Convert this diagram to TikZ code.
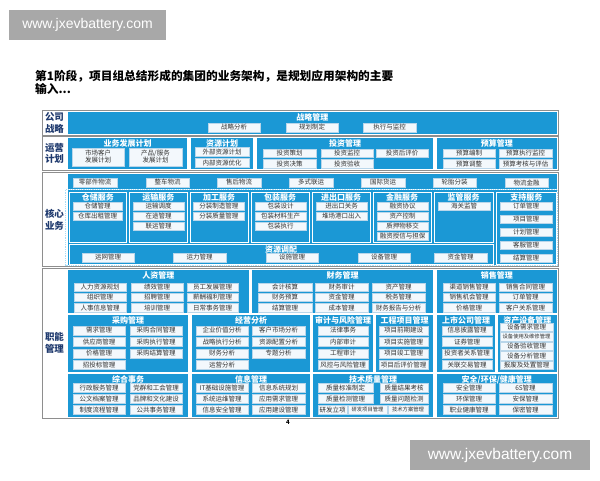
\documentclass[tikz,border=0pt]{standalone}
\usepackage{fontspec}
\setmainfont{Noto Sans CJK SC}
\newfontfamily\wmfont{Liberation Sans}
\definecolor{arcblue}{HTML}{1B98D5}
\definecolor{boxfill}{HTML}{F3F8FC}
\definecolor{boxline}{HTML}{B9D6EA}
\definecolor{boxtext}{HTML}{333333}
\definecolor{rowlabel}{HTML}{1F3A6E}
\definecolor{rowline}{HTML}{8E8E8E}
\definecolor{wmgray}{HTML}{A8A8A8}
\definecolor{dotblue}{HTML}{A9DCF5}
\tikzset{
 itembox/.style={draw=boxline, line width=0.4pt, fill=boxfill, inner sep=0pt, text=boxtext, align=center, font=\fontsize{6.5}{7}\selectfont},
 smallitem/.style={itembox, font=\fontsize{5.3}{6}\selectfont},
 blkbox/.style={fill=arcblue, inner sep=0pt, draw=none},
 svcbox/.style={fill=arcblue, inner sep=0pt, draw=white, line width=0.6pt},
 blktitle/.style={text=white, font=\bfseries\fontsize{8}{9}\selectfont, inner sep=0pt},
 rowframe/.style={draw=rowline, line width=0.7pt, fill=white, inner sep=0pt},
 dotframe/.style={draw=dotblue, densely dotted, line width=0.8pt, inner sep=0pt},
 rowlab/.style={text=rowlabel, font=\bfseries\fontsize{9.5}{11.5}\selectfont, align=center, inner sep=0pt},
 wmbox/.style={fill=wmgray, text=white, inner sep=0pt},
}
\newcommand\R[7]{\node[#1,minimum width={(#5-#3)*1pt},minimum height={(#6-#4)*1pt}] (#2) at ({(#3+#5)/2},{(#4+#6)/2}) {#7};}
\newcommand\ib[6]{\R{itembox}{#1}{#2}{#3}{#4}{#5}{#6}}
\newcommand\sib[6]{\R{smallitem}{#1}{#2}{#3}{#4}{#5}{#6}}
\newcommand\bk[7]{\R{#1}{#2}{#3}{#4}{#5}{#6}{}\node[blktitle] (#2t) at ({(#3+#5)/2},{#4+5.5}) {#7};}
\begin{document}
\begin{tikzpicture}[x=1pt,y=-1pt]
\fill[white] (0,0) rectangle (600,480);
\useasboundingbox (0,0) rectangle (600,480);
% watermarks
\R{wmbox,font=\wmfont\fontsize{14}{16}\selectfont}{wm1}{9}{10}{166}{40}{www.jxevbattery.com}
\R{wmbox,font=\wmfont\fontsize{15.5}{17}\selectfont}{wm2}{410}{440}{590}{470}{www.jxevbattery.com}
% title
\node[anchor=west, inner sep=0pt, font=\bfseries\fontsize{11.7}{13}\selectfont] (title1) at (35,76) {第1阶段，项目组总结形成的集团的业务架构，是规划应用架构的主要};
\node[anchor=west, inner sep=0pt, font=\bfseries\fontsize{11.7}{13}\selectfont] (title2) at (35,89) {输入...};
% ===== Row 1 =====
\R{rowframe}{fr1}{42}{110.5}{558}{135}{}
\node[rowlab] (l1) at (54.5,123) {公司\\战略};
\bk{blkbox}{strat}{68}{112}{556.5}{133.5}{战略管理}
\ib{s1}{208}{123}{260}{132}{战略分析}
\ib{s2}{286}{123}{338}{132}{规划制定}
\ib{s3}{363}{123}{416}{132}{执行与监控}
% ===== Row 2 =====
\R{rowframe}{fr2}{42}{136.5}{558}{170.5}{}
\node[rowlab] (l2) at (54.5,153.5) {运营\\计划};
\bk{blkbox}{bizplan}{68}{138}{187}{169}{业务发展计划}
\ib{bp1}{72}{148}{124}{166}{市场客户\\发展计划}
\ib{bp2}{129}{148}{182}{166}{产品/服务\\发展计划}
\bk{blkbox}{resplan}{191}{138}{253}{169}{资源计划}
\ib{rp1}{195}{147.5}{249}{156.5}{外部资源计划}
\ib{rp2}{195}{158.5}{249}{167.5}{内部资源优化}
\bk{blkbox}{invest}{257}{138}{433}{169}{投资管理}
\ib{iv1}{263}{149}{316}{157.5}{投资策划}
\ib{iv2}{321}{149}{373}{157.5}{投资监控}
\ib{iv3}{376}{149}{428}{157.5}{投资后评价}
\ib{iv4}{263}{159.5}{316}{168}{投资决策}
\ib{iv5}{321}{159.5}{373}{168}{投资验收}
\bk{blkbox}{budget}{437}{138}{556.5}{169}{预算管理}
\ib{bg1}{443}{149}{495}{157.5}{预算编制}
\ib{bg2}{499}{149}{552}{157.5}{预算执行监控}
\ib{bg3}{443}{159.5}{495}{168}{预算调整}
\ib{bg4}{499}{159.5}{552}{168}{预算考核与评估}
% ===== Row 3 =====
\R{rowframe}{fr3}{42}{172.5}{558}{266.5}{}
\node[rowlab] (l3) at (54.5,220) {核心\\业务};
\R{blkbox}{strip}{68}{174}{556.5}{189}{}
\ib{lg1}{73}{178}{117}{187}{零部件物流}
\ib{lg2}{146}{178}{189}{187}{整车物流}
\ib{lg3}{217}{178}{261}{187}{售后物流}
\ib{lg4}{289}{178}{333}{187}{多式联运}
\ib{lg5}{361}{178}{405}{187}{国际货运}
\ib{lg6}{433}{178}{476}{187}{轮胎分装}
\ib{lg7}{505}{178}{548}{187}{物流金融}
\R{blkbox}{svcarea}{68}{190}{556.5}{265}{}
\bk{svcbox}{wh}{69}{192}{126.5}{242}{仓储服务}
\ib{wh1}{73}{202}{122}{210.5}{仓储管理}
\ib{wh2}{73}{212}{122}{220.5}{仓库出租管理}
\bk{svcbox}{tr}{129.5}{192}{187}{242}{运输服务}
\ib{tr1}{133}{202}{184}{210.5}{运输调度}
\ib{tr2}{133}{212}{184}{220.5}{在途管理}
\ib{tr3}{133}{222}{184}{230.5}{联运管理}
\bk{svcbox}{pr}{190}{192}{248}{242}{加工服务}
\ib{pr1}{193}{202}{244.5}{210.5}{分装制造管理}
\ib{pr2}{193}{212}{244.5}{220.5}{分装质量管理}
\bk{svcbox}{pk}{251}{192}{309}{242}{包装服务}
\ib{pk1}{255}{202}{306}{210.5}{包装设计}
\ib{pk2}{255}{212}{306}{220.5}{包装材料生产}
\ib{pk3}{255}{222}{306}{230.5}{包装执行}
\bk{svcbox}{ie}{312}{192}{370}{242}{进出口服务}
\ib{ie1}{316}{202}{367}{210.5}{进出口关务}
\ib{ie2}{316}{212}{367}{220.5}{堆场港口出入}
\bk{svcbox}{fn}{373}{192}{431}{242}{金融服务}
\ib{fn1}{377}{202}{428}{210.5}{融资协议}
\ib{fn2}{377}{212}{428}{220.5}{资产控制}
\ib{fn3}{377}{222}{428}{230.5}{质押物移交}
\ib{fn4}{377}{232}{428}{240.5}{融资授信与担保}
\bk{svcbox}{sv}{434}{192}{493}{242}{监管服务}
\ib{sv1}{438}{202}{490}{210.5}{海关监管}
\bk{svcbox}{sp}{496}{192}{556.5}{264.5}{支持服务}
\ib{sp1}{500}{202}{552}{210.5}{订单管理}
\ib{sp2}{500}{215}{552}{223.5}{项目管理}
\ib{sp3}{500}{228}{552}{236.5}{计划管理}
\ib{sp4}{500}{241}{552}{249.5}{客服管理}
\ib{sp5}{500}{254}{552}{262.5}{结算管理}
\bk{svcbox}{ra}{69}{244}{493}{264.5}{资源调配}
\ib{ra1}{82}{253}{134}{262}{运网管理}
\ib{ra2}{173}{253}{226}{262}{运力管理}
\ib{ra3}{266}{253}{318}{262}{设施管理}
\ib{ra4}{358}{253}{410}{262}{设备管理}
\ib{ra5}{434}{253}{487}{262}{资金管理}
\R{dotframe}{svcdots}{65.5}{189.5}{557.5}{265.5}{}
% ===== Row 4 =====
\R{rowframe}{fr4}{42}{268.5}{558}{418}{}
\node[rowlab] (l4) at (54.5,343) {职能\\管理};
% band 1
\bk{blkbox}{hr}{68}{270}{248.5}{313}{人资管理}
\ib{hr1}{74}{283}{126}{291.5}{人力资源规划}
\ib{hr2}{131}{283}{183}{291.5}{绩效管理}
\ib{hr3}{187}{283}{238}{291.5}{员工发展管理}
\ib{hr4}{74}{293}{126}{301.5}{组织管理}
\ib{hr5}{131}{293}{183}{301.5}{招聘管理}
\ib{hr6}{187}{293}{238}{301.5}{薪酬福利管理}
\ib{hr7}{74}{303.5}{126}{312}{人事信息管理}
\ib{hr8}{131}{303.5}{183}{312}{培训管理}
\ib{hr9}{187}{303.5}{238}{312}{日常事务管理}
\bk{blkbox}{fi}{252}{270}{433}{313}{财务管理}
\ib{fi1}{258}{283}{312}{291.5}{会计核算}
\ib{fi2}{315}{283}{368}{291.5}{财务审计}
\ib{fi3}{372}{283}{425}{291.5}{资产管理}
\ib{fi4}{258}{293}{312}{301.5}{财务预算}
\ib{fi5}{315}{293}{368}{301.5}{资金管理}
\ib{fi6}{372}{293}{425}{301.5}{税务管理}
\ib{fi7}{258}{303.5}{312}{312}{结算管理}
\ib{fi8}{315}{303.5}{368}{312}{成本管理}
\ib{fi9}{372}{303.5}{425}{312}{财务报告与分析}
\bk{blkbox}{sa}{437}{270}{556.5}{313}{销售管理}
\ib{sa1}{443}{283}{495}{291.5}{渠道销售管理}
\ib{sa2}{499}{283}{552}{291.5}{销售合同管理}
\ib{sa3}{443}{293}{495}{301.5}{销售机会管理}
\ib{sa4}{499}{293}{552}{301.5}{订单管理}
\ib{sa5}{443}{303.5}{495}{312}{价格管理}
\ib{sa6}{499}{303.5}{552}{312}{客户关系管理}
% band 2
\bk{blkbox}{pc}{68}{315}{188}{372}{采购管理}
\ib{pc1}{73}{326}{125}{335}{需求管理}
\ib{pc2}{130}{326}{182}{335}{采购合同管理}
\ib{pc3}{73}{337.5}{125}{346.5}{供应商管理}
\ib{pc4}{130}{337.5}{182}{346.5}{采购执行管理}
\ib{pc5}{73}{349}{125}{358}{价格管理}
\ib{pc6}{130}{349}{182}{358}{采购结算管理}
\ib{pc7}{73}{360.5}{125}{369.5}{招投标管理}
\bk{blkbox}{op}{192}{315}{310}{372}{经营分析}
\ib{op1}{196}{326}{248}{335}{企业价值分析}
\ib{op2}{252}{326}{305}{335}{客户市场分析}
\ib{op3}{196}{337.5}{248}{346.5}{战略执行分析}
\ib{op4}{252}{337.5}{305}{346.5}{资源配置分析}
\ib{op5}{196}{349}{248}{358}{财务分析}
\ib{op6}{252}{349}{305}{358}{专题分析}
\ib{op7}{196}{360.5}{248}{369.5}{运营分析}
\bk{blkbox}{au}{313}{315}{373}{372}{审计与风险管理}
\ib{au1}{318}{326}{368}{335}{法律事务}
\ib{au2}{318}{337.5}{368}{346.5}{内部审计}
\ib{au3}{318}{349}{368}{358}{工程审计}
\ib{au4}{318}{360.5}{368}{369.5}{风控与风险管理}
\bk{blkbox}{pj}{376}{315}{433}{372}{工程项目管理}
\ib{pj1}{379}{326}{428}{335}{项目前期建设}
\ib{pj2}{379}{337.5}{428}{346.5}{项目实施管理}
\ib{pj3}{379}{349}{428}{358}{项目竣工管理}
\ib{pj4}{379}{360.5}{428}{369.5}{项目后评价管理}
\bk{blkbox}{lc}{437}{315}{495}{372}{上市公司管理}
\ib{lc1}{442}{326}{492}{335}{信息披露管理}
\ib{lc2}{442}{337.5}{492}{346.5}{证券管理}
\ib{lc3}{442}{349}{492}{358}{投资者关系管理}
\ib{lc4}{442}{360.5}{492}{369.5}{关联交易管理}
\bk{blkbox}{eq}{498}{315}{556.5}{372}{资产设备管理}
\ib{eq1}{500}{323}{553}{331.5}{设备需求管理}
\sib{eq2}{500}{332.5}{553}{341}{设备使用及维修管理}
\ib{eq3}{500}{342}{553}{350.5}{设备验收管理}
\ib{eq4}{500}{351.5}{553}{360}{设备分析管理}
\ib{eq5}{500}{361}{553}{369.5}{报废及处置管理}
% band 3
\bk{blkbox}{gn}{68}{374}{188}{417}{综合事务}
\ib{gn1}{73}{383.5}{125}{392}{行政服务管理}
\ib{gn2}{130}{383.5}{182}{392}{党群和工会管理}
\ib{gn3}{73}{394.5}{125}{403}{公文档案管理}
\ib{gn4}{130}{394.5}{182}{403}{品牌和文化建设}
\ib{gn5}{73}{405.5}{125}{414}{制度流程管理}
\ib{gn6}{130}{405.5}{182}{414}{公共事务管理}
\bk{blkbox}{im}{192}{374}{310}{417}{信息管理}
\ib{im1}{196}{383.5}{248}{392}{IT基础设施管理}
\ib{im2}{252}{383.5}{305}{392}{信息系统规划}
\ib{im3}{196}{394.5}{248}{403}{系统运维管理}
\ib{im4}{252}{394.5}{305}{403}{应用需求管理}
\ib{im5}{196}{405.5}{248}{414}{信息安全管理}
\ib{im6}{252}{405.5}{305}{414}{应用建设管理}
\bk{blkbox}{tq}{313}{374}{433}{417}{技术质量管理}
\ib{tq1}{318}{383.5}{373}{392}{质量标准制定}
\ib{tq2}{380}{383.5}{428}{392}{质量结果考核}
\ib{tq3}{318}{394.5}{373}{403}{质量检测管理}
\ib{tq4}{380}{394.5}{428}{403}{质量问题检测}
\ib{tq5}{318}{405.5}{347}{414}{研发立项}
\sib{tq6}{348}{405.5}{387}{414}{研发项目管理}
\sib{tq7}{388}{405.5}{428}{414}{技术方案管理}
\bk{blkbox}{sf}{437}{374}{556.5}{417}{安全/环保/健康管理}
\ib{sf1}{443}{383.5}{495}{392}{安全管理}
\ib{sf2}{499}{383.5}{552}{392}{6S管理}
\ib{sf3}{443}{394.5}{495}{403}{环保管理}
\ib{sf4}{499}{394.5}{552}{403}{安保管理}
\ib{sf5}{443}{405.5}{495}{414}{职业健康管理}
\ib{sf6}{499}{405.5}{552}{414}{保密管理}
\node[inner sep=0pt, font=\bfseries\fontsize{6}{6}\selectfont] (pg) at (288,422.5) {4};
\end{tikzpicture}
\end{document}
